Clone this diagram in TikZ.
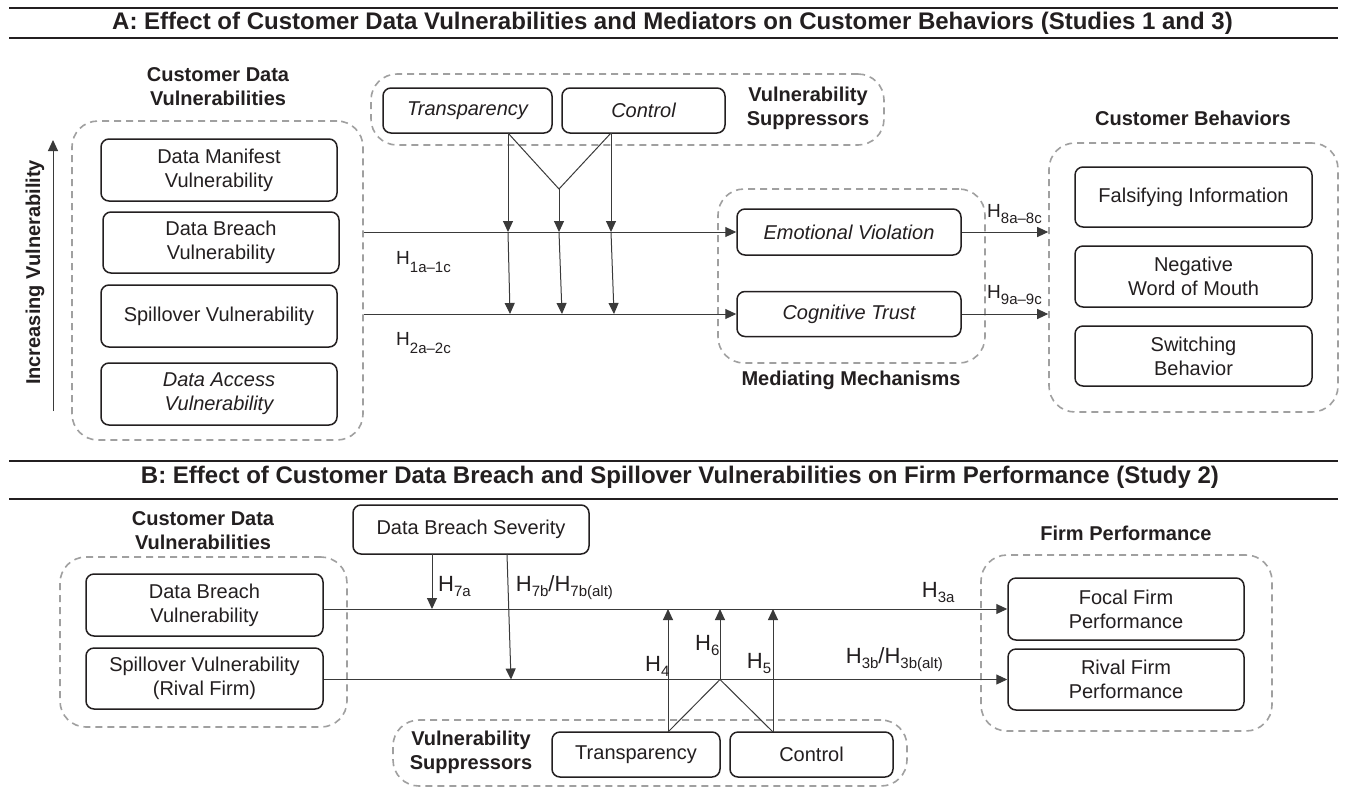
\documentclass[tikz,border=0pt]{standalone}
\usepackage{fontspec}
\setmainfont{Liberation Sans}
\usetikzlibrary{arrows.meta}
\definecolor{ink}{HTML}{231F20}
\definecolor{lineclr}{HTML}{3A3A3A}
\definecolor{dashclr}{HTML}{A0A0A0}
\newcommand{\bodyfs}{\fontsize{20}{24}\selectfont}
\newcommand{\titlefs}{\fontsize{24}{28}\selectfont\bfseries}
\newcommand{\hs}[2]{\raisebox{-#1pt}{\fontsize{15}{15}\selectfont #2}}
\begin{document}
\begin{tikzpicture}[x=1pt,y=-1pt,
  box/.style={draw=ink, line width=1.5pt, rounded corners=8pt, align=center, font=\bodyfs, text=ink, inner sep=0pt},
  ibox/.style={box, font=\bodyfs\itshape},
  group/.style={draw=dashclr, line width=1.6pt, dash pattern=on 7pt off 5pt, rounded corners=26pt, inner sep=0pt},
  lbl/.style={font=\bodyfs\bfseries, text=ink, align=center, inner sep=0pt},
  hypA/.style={font=\fontsize{19}{24}\selectfont, text=ink, inner sep=0pt, anchor=base west},
  hypB/.style={font=\fontsize{22}{24}\selectfont, text=ink, inner sep=0pt, anchor=base west},
  conn/.style={draw=lineclr, line width=1pt},
  arr/.style={conn, -{Triangle[length=11pt,width=10pt]}},
  rulestyle/.style={draw=ink, line width=2.6pt},
  ttl/.style={font=\titlefs, text=ink, inner sep=0pt},
]
\fill[white] (0,0) rectangle (1346,788);
\useasboundingbox (0,0) rectangle (1346,788);

% ---------------- Panel A header
\draw[rulestyle] (9,8) -- (1338,8);
\draw[rulestyle] (9,38) -- (1338,38);
\node[ttl] (titleA) at (672.5,23) {A: Effect of Customer Data Vulnerabilities and Mediators on Customer Behaviors (Studies 1 and 3)};

% ---------------- Panel A left
\node[lbl] (cdvA) at (218,87) {Customer Data\\Vulnerabilities};
\node[group, minimum width=291pt, minimum height=319pt] (lcA) at (217.5,280.5) {};
\node[box, minimum width=236pt, minimum height=62pt] (dmv) at (219,170) {Data Manifest\\Vulnerability};
\node[box, minimum width=236pt, minimum height=61pt] (dbv) at (221,242.5) {Data Breach\\Vulnerability};
\node[box, minimum width=236pt, minimum height=62pt] (spv) at (219,316) {Spillover Vulnerability};
\node[ibox, minimum width=236pt, minimum height=62pt] (dav) at (219,394) {Data Access\\Vulnerability};
\coordinate (ivb) at (53,411);
\coordinate (ivt) at (53,140);
\draw[arr] (ivb) -- (ivt);
\node[lbl, rotate=90] (ivl) at (35,272.5) {Increasing Vulnerability};

% ---------------- Panel A suppressors
\node[group, minimum width=513pt, minimum height=71pt] (supA) at (627.5,109.5) {};
\node[ibox, minimum width=169pt, minimum height=45pt] (trA) at (467.5,110.5) {Transparency};
\node[ibox, minimum width=163pt, minimum height=45pt] (coA) at (643.5,110.5) {Control};
\node[lbl] (vsA) at (808,108) {Vulnerability\\Suppressors};

% ---------------- Panel A mediators
\node[group, minimum width=267pt, minimum height=174pt] (medA) at (851.5,276) {};
\node[ibox, minimum width=224pt, minimum height=46pt] (ev) at (849,232) {Emotional Violation};
\node[ibox, minimum width=224pt, minimum height=45pt] (ct) at (849,314) {Cognitive Trust};
\node[lbl] (mmA) at (851,380) {Mediating Mechanisms};

% ---------------- Panel A behaviors
\node[lbl] (cbt) at (1193,118) {Customer Behaviors};
\node[group, minimum width=289pt, minimum height=269pt] (cbA) at (1193.5,277.5) {};
\node[box, minimum width=237pt, minimum height=60pt] (fi) at (1193.5,197) {Falsifying Information};
\node[box, minimum width=237pt, minimum height=61pt] (nw) at (1193.5,276.5) {Negative\\Word of Mouth};
\node[box, minimum width=237pt, minimum height=60pt] (sw) at (1193.5,356) {Switching\\Behavior};

% ---------------- Panel A connectors
\draw[arr] (lcA.east |- ev.west) -- (ev.west);
\draw[arr] (lcA.east |- ct.west) -- (ct.west);
\draw[arr] (ev.east) -- (cbA.west |- ev.east);
\draw[arr] (ct.east) -- (cbA.west |- ct.east);

\coordinate (tA) at (508,133);
\coordinate (cA) at (611,133);
\coordinate (vA) at (559,189);
\coordinate (u1) at (508,232);
\coordinate (u2) at (559,232);
\coordinate (u3) at (611,232);
\coordinate (l1) at (510,314);
\coordinate (l2) at (562,314);
\coordinate (l3) at (614,314);
\draw[conn] (tA) -- (vA) -- (cA);
\draw[arr] (tA) -- (u1);
\draw[arr] (u1) -- (l1);
\draw[arr] (vA) -- (u2);
\draw[arr] (u2) -- (l2);
\draw[arr] (cA) -- (u3);
\draw[arr] (u3) -- (l3);

\node[hypA] (h1) at (396,264) {H\hs{8}{1a–1c}};
\node[hypA] (h2) at (396,345) {H\hs{8}{2a–2c}};
\node[hypA] (h8) at (987,217) {H\hs{6}{8a–8c}};
\node[hypA] (h9) at (987,298) {H\hs{6}{9a–9c}};

% ---------------- Panel B header
\draw[rulestyle] (9,461) -- (1338,461);
\draw[rulestyle] (9,499) -- (1338,499);
\node[ttl] (titleB) at (680,477) {B: Effect of Customer Data Breach and Spillover Vulnerabilities on Firm Performance (Study 2)};

% ---------------- Panel B left
\node[lbl] (cdvB) at (203,530.5) {Customer Data\\Vulnerabilities};
\node[group, minimum width=287pt, minimum height=170pt] (lcB) at (203.5,642) {};
\node[box, minimum width=237pt, minimum height=62pt] (dbB) at (204.5,605) {Data Breach\\Vulnerability};
\node[box, minimum width=237pt, minimum height=61pt] (spB) at (204.5,678.5) {Spillover Vulnerability\\(Rival Firm)};

% ---------------- Panel B severity
\node[box, minimum width=236pt, minimum height=49pt] (dbs) at (471,529.5) {Data Breach Severity};

% ---------------- Panel B suppressors
\node[group, minimum width=514pt, minimum height=66pt] (supB) at (650,753) {};
\node[lbl] (vsB) at (471,752.5) {Vulnerability\\Suppressors};
\node[box, minimum width=168pt, minimum height=45pt] (trB) at (636,754.5) {Transparency};
\node[box, minimum width=163pt, minimum height=45pt] (coB) at (811.5,754.5) {Control};

% ---------------- Panel B firm performance
\node[lbl] (fpt) at (1126,533) {Firm Performance};
\node[group, minimum width=291pt, minimum height=176pt] (fpB) at (1126.5,643) {};
\node[box, minimum width=236pt, minimum height=62pt] (fo) at (1126,609) {Focal Firm\\Performance};
\node[box, minimum width=236pt, minimum height=61pt] (ri) at (1126,679.5) {Rival Firm\\Performance};

% ---------------- Panel B connectors
\draw[arr] (dbB.east |- fo.west) -- (fo.west);
\draw[arr] (spB.east |- ri.west) -- (ri.west);

\coordinate (s7a) at (432,554);
\coordinate (e7a) at (432,609);
\coordinate (s7b) at (507,554);
\coordinate (e7b) at (511,679.5);
\draw[arr] (s7a) -- (e7a);
\draw[arr] (s7b) -- (e7b);

\coordinate (p4) at (668,732);
\coordinate (v6) at (720,679.5);
\coordinate (p5) at (773,732);
\coordinate (e4) at (668,609);
\coordinate (e6) at (720,609);
\coordinate (e5) at (773,609);
\draw[conn] (p4) -- (v6) -- (p5);
\draw[arr] (p4) -- (e4);
\draw[arr] (v6) -- (e6);
\draw[arr] (p5) -- (e5);

\node[hypB] (h7a) at (438,591) {H\hs{5}{7a}};
\node[hypB] (h7b) at (515.7,591) {H\hs{5}{7b}/H\hs{5}{7b(alt)}};
\node[hypB] (h4) at (645,671) {H\hs{5}{4}};
\node[hypB] (h6) at (695,650) {H\hs{5}{6}};
\node[hypB] (h5) at (746.7,668) {H\hs{5}{5}};
\node[hypB] (h3a) at (921.7,597) {H\hs{5}{3a}};
\node[hypB] (h3b) at (845.7,663) {H\hs{5}{3b}/H\hs{5}{3b(alt)}};
\end{tikzpicture}
\end{document}
